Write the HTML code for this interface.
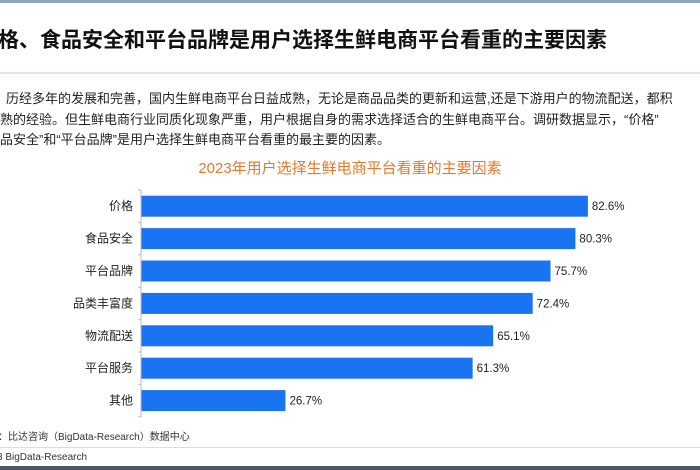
<!DOCTYPE html>
<html><head><meta charset="utf-8"><style>
body{margin:0;width:700px;height:470px;overflow:hidden;background:#fff;position:relative;font-family:"Liberation Sans","Noto Sans CJK SC",sans-serif;}
.abs{position:absolute;white-space:nowrap;}
</style></head><body>
<div class="abs" style="left:0;top:0;width:700px;height:3px;background:#8aa2bf"></div>
<div class="abs" style="left:-2px;top:24px;font-size:21px;font-weight:bold;color:#111">格、食品安全和平台品牌是用户选择生鲜电商平台看重的主要因素</div>
<div class="abs" style="left:0;top:72px;width:700px;height:2px;background:#dfe4ea"></div>
<div class="abs" style="left:6px;top:89px;font-size:13px;line-height:20.5px;color:#222">历经多年的发展和完善，国内生鲜电商平台日益成熟，无论是商品品类的更新和运营,还是下游用户的物流配送，都积<br><span style="margin-left:-6px">熟的经验。但生鲜电商行业同质化现象严重，用户根据自身的需求选择适合的生鲜电商平台。调研数据显示，“价格”</span><br><span style="margin-left:-6px">品安全”和“平台品牌”是用户选择生鲜电商平台看重的最主要的因素。</span></div>
<div class="abs" style="left:0;width:700px;text-align:center;top:157px;font-size:15px;color:#e8782a">2023年用户选择生鲜电商平台看重的主要因素</div>
<svg class="abs" style="left:0;top:0" width="700" height="470">
<g id="g"></g>
</svg>
<div class="abs" style="left:-2px;top:428px;font-size:10px;color:#333">：比达咨询（BigData-Research）数据中心</div>
<div class="abs" style="left:0;top:447px;width:700px;height:1px;background:#ddd"></div>
<div class="abs" style="left:-3px;top:452px;font-size:10px;color:#333">3 BigData-Research</div>
<div class="abs" style="left:0;top:466px;width:700px;height:4px;background:#4a5868"></div>
<script>
const categories=["价格","食品安全","平台品牌","品类丰富度","物流配送","平台服务","其他"];
const values=[82.6,80.3,75.7,72.4,65.1,61.3,26.7];
const x0=141,pxPer=5.41,y0=190,step=32.4,bh=21;
const xs=v=>x0+v*pxPer;
const ys=i=>y0+i*step+(step-bh)/2;
const g=document.getElementById('g');
const NS='http://www.w3.org/2000/svg';
function mk(t,a){const e=document.createElementNS(NS,t);for(const k in a)e.setAttribute(k,a[k]);g.appendChild(e);return e;}
categories.forEach((c,i)=>{
 const r=mk('rect',{x:x0,y:ys(i),width:xs(values[i])-x0,height:bh,fill:'#1a73f0'});
 
 
 const l=mk('text',{x:x0-8,y:ys(i)+bh/2+4,'text-anchor':'end','font-size':'12',fill:'#222'});
 l.textContent=c;
 
 
 const v=mk('text',{x:xs(values[i])+4,y:ys(i)+bh/2+4,'font-size':'11.5',fill:'#222'});
 v.textContent=values[i].toFixed(1)+'%';
 
 
});
const ax=mk('line',{x1:x0,x2:x0,y1:y0,y2:y0+step*categories.length,stroke:'#bbb'});


for(let i=0;i<=categories.length;i++){const t=mk('line',{x1:x0-3,x2:x0,y1:y0+i*step,y2:y0+i*step,stroke:'#bbb'});

}
</script>
</body></html>
